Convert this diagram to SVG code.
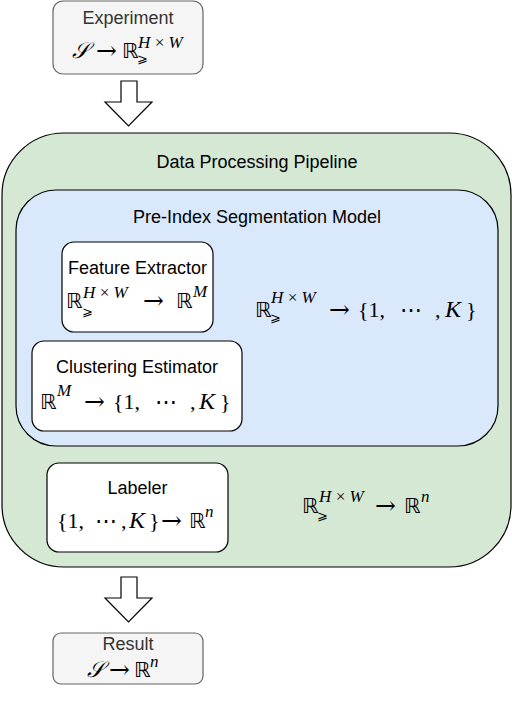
<svg xmlns="http://www.w3.org/2000/svg" width="512" height="712" viewBox="0 0 512 712">
<style>
.lbl{font-family:"Liberation Sans",Arial,sans-serif;font-size:18px;fill:#000;text-anchor:middle}
.grey{fill:#333}
.m{font-family:"Liberation Serif","DejaVu Serif",serif;font-size:22px;fill:#000}
.it{font-style:italic}
.k{font-style:italic;font-size:24px}
.sup{font-size:17px;font-style:italic}
.sub{font-size:13px;font-family:"DejaVu Serif",serif}
.bb{font-family:"DejaVu Sans",sans-serif;font-size:21px}
.ar{font-family:"DejaVu Serif",serif;font-size:25px}
.dots{font-family:"DejaVu Serif",serif;font-size:22px}
.node{stroke:#000;stroke-width:1.2}
.arrow{fill:#fff;stroke:#000;stroke-width:1.2;stroke-linejoin:miter}
</style>
<rect width="512" height="712" fill="#fff"/>
<g id="connectors">
<polygon class="arrow" points="121,81 137,81 137,102 152,102 128.5,126 105,102 121,102"/>
<polygon class="arrow" points="121,577 137,577 137,598 152,598 128.5,622 105,598 121,598"/>
</g>
<g id="experiment">
<rect x="53" y="1" width="150" height="73" rx="10" fill="#f5f5f5" stroke="#666" stroke-width="1.2"/>
<text class="lbl grey" x="128" y="24">Experiment</text>
<text class="m"><tspan x="72" y="58" class="it">𝒮</tspan><tspan x="96" y="59" class="ar">→</tspan><tspan x="122" y="58" class="bb">ℝ</tspan><tspan x="138" y="48" class="sup">H&#8201;×&#8201;W</tspan><tspan x="137" y="63" class="sub">⩾</tspan></text>
</g>
<g id="pipeline">
<rect class="node" x="2" y="133" width="509" height="434" rx="62" fill="#d5e8d4"/>
<text class="lbl" x="257" y="168">Data Processing Pipeline</text>
<text class="m"><tspan x="302" y="513" class="bb">ℝ</tspan><tspan x="319" y="502" class="sup">H&#8201;×&#8201;W</tspan><tspan x="317" y="520" class="sub">⩾</tspan><tspan x="375" y="514" class="ar">→</tspan><tspan x="404" y="513" class="bb">ℝ</tspan><tspan x="421" y="502" class="sup">n</tspan></text>
</g>
<g id="segmentation">
<rect class="node" x="16" y="190" width="482" height="256" rx="40" fill="#dae8fc"/>
<text class="lbl" x="257" y="223">Pre-Index Segmentation Model</text>
<text class="m"><tspan x="255" y="317" class="bb">ℝ</tspan><tspan x="271" y="303" class="sup">H&#8201;×&#8201;W</tspan><tspan x="270" y="322" class="sub">⩾</tspan><tspan x="329" y="318" class="ar">→</tspan><tspan x="358" y="317">{1,</tspan><tspan x="400" y="317" class="dots">⋯</tspan><tspan x="435" y="317">,</tspan><tspan x="445" y="317" class="k">K</tspan><tspan x="466" y="317">}</tspan></text>
</g>
<g id="feature-extractor">
<rect class="node" x="62" y="242" width="151" height="90" rx="12" fill="#fff"/>
<text class="lbl" x="137.5" y="274">Feature Extractor</text>
<text class="m"><tspan x="66" y="308" class="bb">ℝ</tspan><tspan x="83" y="298" class="sup">H&#8201;×&#8201;W</tspan><tspan x="82" y="316" class="sub">⩾</tspan><tspan x="143" y="309" class="ar">→</tspan><tspan x="176" y="308" class="bb">ℝ</tspan><tspan x="193" y="297" class="sup">M</tspan></text>
</g>
<g id="clustering-estimator">
<rect class="node" x="32" y="341" width="210" height="90" rx="12" fill="#fff"/>
<text class="lbl" x="137" y="373">Clustering Estimator</text>
<text class="m"><tspan x="40" y="409" class="bb">ℝ</tspan><tspan x="57" y="396" class="sup">M</tspan><tspan x="84" y="410" class="ar">→</tspan><tspan x="113" y="409">{1,</tspan><tspan x="155" y="409" class="dots">⋯</tspan><tspan x="190" y="409">,</tspan><tspan x="199" y="409" class="k">K</tspan><tspan x="220" y="409">}</tspan></text>
</g>
<g id="labeler">
<rect class="node" x="47" y="463" width="181" height="89" rx="12" fill="#fff"/>
<text class="lbl" x="137.5" y="494">Labeler</text>
<text class="m"><tspan x="57" y="528">{1,</tspan><tspan x="95" y="528" class="dots">⋯</tspan><tspan x="121" y="528">,</tspan><tspan x="129" y="528" class="k">K</tspan><tspan x="149" y="528">}</tspan><tspan x="161" y="529" class="ar">→</tspan><tspan x="189" y="528" class="bb">ℝ</tspan><tspan x="205" y="517" class="sup">n</tspan></text>
</g>
<g id="result">
<rect x="53" y="633" width="150" height="51" rx="8" fill="#f5f5f5" stroke="#666" stroke-width="1.2"/>
<text class="lbl grey" x="128" y="650">Result</text>
<text class="m"><tspan x="87" y="677" class="it">𝒮</tspan><tspan x="109" y="678" class="ar">→</tspan><tspan x="134" y="677" class="bb">ℝ</tspan><tspan x="150" y="667" class="sup">n</tspan></text>
</g>
</svg>
